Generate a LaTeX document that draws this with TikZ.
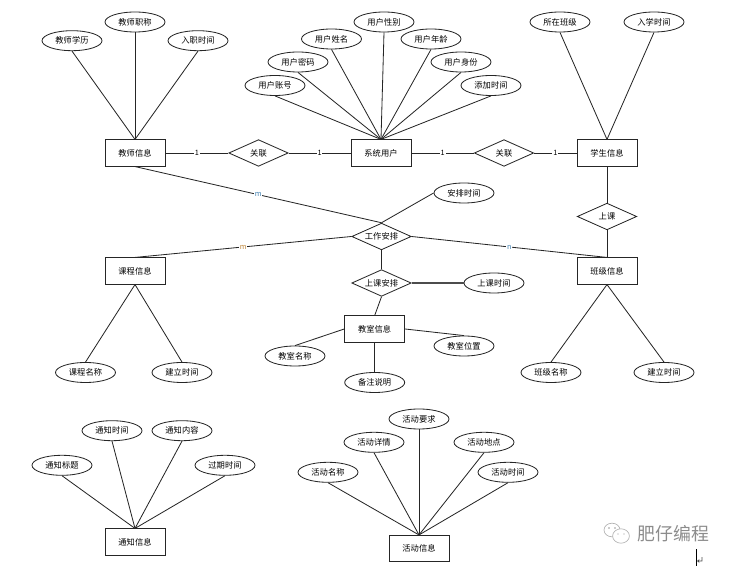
\documentclass[tikz,border=0pt]{standalone}
\usepackage{fontspec}
\setmainfont{Noto Sans CJK SC}
\usetikzlibrary{shapes.geometric}
\definecolor{cardblue}{HTML}{3F7FB0}
\definecolor{cardorange}{HTML}{C0873A}
\tikzset{
  lnk/.style={draw=black!85,line width=0.62pt},
  ent/.style={rectangle,draw=black!85,line width=0.75pt,fill=white,minimum width=45pt,minimum height=19.6pt,inner sep=0pt,font=\fontsize{6.2pt}{7pt}\selectfont},
  attr/.style={ellipse,draw=black!85,line width=0.62pt,fill=white,minimum width=45pt,minimum height=15pt,inner sep=0pt,font=\fontsize{6.2pt}{7pt}\selectfont},
  rel/.style={diamond,draw=black!85,line width=0.62pt,fill=white,minimum width=44.6pt,minimum height=20pt,inner sep=0pt,aspect=2.2,font=\fontsize{6.2pt}{7pt}\selectfont},
  card/.style={fill=white,inner sep=0.6pt,font=\fontsize{5.5pt}{6pt}\selectfont},
}
\begin{document}
\begin{tikzpicture}[x=0.75pt,y=-0.75pt]
\useasboundingbox (0,0) rectangle (732,566);
% entities
\node[ent] (teacher) at (135,153) {教师信息};
\node[ent] (user) at (381,153) {系统用户};
\node[ent] (student) at (607,153) {学生信息};
\node[ent] (course) at (135,271) {课程信息};
\node[ent] (klass) at (607,271) {班级信息};
\node[ent] (room) at (374.7,329) {教室信息};
\node[ent] (notice) at (135,542) {通知信息};
\node[ent] (activity) at (419,548.5) {活动信息};
% relations
\node[rel] (relA) at (258.5,153) {关联};
\node[rel] (relB) at (504,153) {关联};
\node[rel] (work) at (381.5,236.5) {工作安排};
\node[rel] (attend) at (607,216.5) {上课};
\node[rel] (sched) at (381.5,283) {上课安排};
% attributes
\node[attr] (tA) at (72,40.7) {教师学历};
\node[attr] (tB) at (135,22) {教师职称};
\node[attr] (tC) at (198,40.7) {入职时间};
\node[attr] (uA) at (275,85.5) {用户账号};
\node[attr] (uB) at (298,62) {用户密码};
\node[attr] (uC) at (331.5,39) {用户姓名};
\node[attr] (uD) at (384,22) {用户性别};
\node[attr] (uE) at (431,39) {用户年龄};
\node[attr] (uF) at (461,62) {用户身份};
\node[attr] (uG) at (491,85.5) {添加时间};
\node[attr] (sA) at (560,22) {所在班级};
\node[attr] (sB) at (654,22) {入学时间};
\node[attr] (wT) at (464,193) {安排时间};
\node[attr] (cT) at (494,283) {上课时间};
\node[attr] (rA) at (295,356) {教室名称};
\node[attr] (rB) at (464,346) {教室位置};
\node[attr] (rC) at (374.7,382.5) {备注说明};
\node[attr] (coA) at (85.5,372.5) {课程名称};
\node[attr] (coB) at (182,372.5) {建立时间};
\node[attr] (kA) at (551,372.5) {班级名称};
\node[attr] (kB) at (664,372.5) {建立时间};
\node[attr] (nA) at (62,465.3) {通知标题};
\node[attr] (nB) at (112,430.7) {通知时间};
\node[attr] (nC) at (182,430.7) {通知内容};
\node[attr] (nD) at (225,465.3) {过期时间};
\node[attr] (aA) at (328,472.3) {活动名称};
\node[attr] (aB) at (374,442.3) {活动详情};
\node[attr] (aC) at (419,419) {活动要求};
\node[attr] (aD) at (484,442.3) {活动地点};
\node[attr] (aE) at (508,472.3) {活动时间};
% connectors
\foreach \a in {tA,tB,tC} \draw[lnk] (\a.south) -- (teacher.north);
\foreach \a in {uA,uB,uC,uD,uE,uF,uG} \draw[lnk] (\a.south) -- (user.north);
\foreach \a in {sA,sB} \draw[lnk] (\a.south) -- (student.north);
\foreach \a in {coA,coB} \draw[lnk] (\a.north) -- (course.south);
\foreach \a in {kA,kB} \draw[lnk] (\a.north) -- (klass.south);
\foreach \a in {nA,nB,nC,nD} \draw[lnk] (\a.south) -- (notice.north);
\foreach \a in {aA,aB,aC,aD,aE} \draw[lnk] (\a.south) -- (activity.north);
\draw[lnk] (teacher.east) -- node[card]{1} (relA.west);
\draw[lnk] (relA.east) -- node[card]{1} (user.west);
\draw[lnk] (user.east) -- node[card]{1} (relB.west);
\draw[lnk] (relB.east) -- node[card]{1} (student.west);
\draw[lnk] (teacher.south) -- node[card,text=cardblue]{m} (work.north);
\draw[lnk] (course.north) -- node[card,text=cardorange]{m} (work.west);
\draw[lnk] (work.east) -- node[card,text=cardblue]{n} (klass.north);
\draw[lnk] (student.south) -- (attend.north);
\draw[lnk] (attend.south) -- (klass.north);
\draw[lnk] (wT.west) -- (work.north);
\draw[lnk] (work.south) -- (sched.north);
\draw[lnk,line width=1pt,draw=black!70] (sched.east) -- (cT.west);
\draw[lnk] (sched.south) -- (room.north);
\draw[lnk] (room.west) -- (rA.north);
\draw[lnk] (room.east) -- (rB.north);
\draw[lnk] (room.south) -- (rC.north);
% watermark
\begin{scope}[draw=black!30,line width=0.5pt]
\draw (612,530) ellipse (8 and 6.8);
\draw[fill=white] (621,536) ellipse (8.4 and 7.2);
\fill[black!40] (609,528) circle (0.8) (615,528) circle (0.8) (618,534) circle (0.7) (624,534) circle (0.7);
\end{scope}
\node[text=black!45,font=\fontsize{13.4pt}{15pt}\selectfont,inner sep=0pt] (mark) at (673.5,534) {肥仔编程};
% cursor and return mark
\draw[black,line width=0.6pt] (696.5,549) -- (696.5,566);
\draw[black!70,line width=0.4pt] (702,557) -- (702,561) -- (697.5,561) (699.3,559.5) -- (697.5,561) -- (699.3,562.5);
\end{tikzpicture}
\end{document}
